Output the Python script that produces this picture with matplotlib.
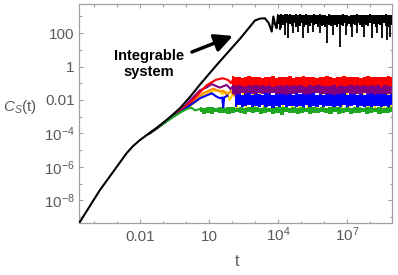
import numpy as np
import matplotlib
matplotlib.use('Agg')
import matplotlib.pyplot as plt
from matplotlib.ticker import FixedLocator, NullFormatter, FixedFormatter

plt.rcParams['font.family'] = ['Liberation Sans', 'DejaVu Sans']
plt.rcParams['mathtext.fontset'] = 'custom'
plt.rcParams['mathtext.rm'] = 'Liberation Sans'
plt.rcParams['mathtext.it'] = 'Liberation Sans:italic'
plt.rcParams['mathtext.bf'] = 'Liberation Sans:bold'

# ---------------- data (log10 values) ----------------
black_logt = [-4.65, -3.74, -2.57, -2.3, -2.0, -1.6, -1.27, -0.8, -0.26, 0.2, 0.61, 1.0,
              1.33, 2.0, 2.35, 3.0, 3.2, 3.43, 3.6, 3.73, 3.80, 3.88, 3.94, 4.0]
black_logC = [-9.38, -7.39, -5.17, -4.76, -4.40, -4.0, -3.67, -3.15, -2.50, -1.78, -1.08, -0.45,
              0.08, 1.12, 1.66, 2.75, 2.86, 2.89, 2.6, 2.09, 2.99, 2.5, 2.29, 3.05]

# black saturation band, sampled from 10^3.95 to 10^8.94
black_hi = [3.14, 3.10, 3.16, 3.08, 3.12, 3.15, 3.09, 3.13, 3.07, 3.11,
            3.14, 3.08, 3.12, 3.10, 3.06, 3.13, 3.09, 3.11, 3.07, 3.12,
            3.10, 3.06, 3.13, 3.08, 3.11, 3.09, 3.05, 3.12, 3.08, 3.10,
            3.07, 3.11, 3.09, 3.06, 3.12, 3.08, 3.10, 3.05, 3.11, 3.09,
            3.07, 3.12, 3.08, 3.10, 3.06, 3.11, 3.09, 3.07, 3.12, 3.08,
            3.10, 3.06, 3.11, 3.08, 3.09, 3.06, 3.12, 3.08, 3.10, 3.07]
black_lo = [2.40, 2.55, 2.30, 2.50, 2.45, 2.60, 2.35, 2.52, 2.42, 2.58,
            2.38, 2.50, 2.44, 2.62, 2.36, 2.48, 2.55, 2.40, 2.58, 2.46,
            2.52, 2.38, 2.60, 2.45, 2.50, 2.35, 2.56, 2.48, 2.42, 2.60,
            2.46, 2.38, 2.55, 2.50, 2.40, 2.58, 2.44, 2.52, 2.36, 2.56,
            2.48, 2.42, 2.60, 2.46, 2.38, 2.54, 2.50, 2.40, 2.58, 2.45,
            2.52, 2.36, 2.56, 2.48, 2.42, 2.60, 2.44, 2.38, 2.54, 2.50]
black_spike_logt = [4.09, 4.30, 4.45, 4.67, 4.88, 5.10, 5.32, 5.53, 5.83, 6.14, 6.40,
                    6.70, 6.96, 7.20, 7.42, 7.74, 8.07, 8.29, 8.51, 8.73, 8.87]
black_spike_logC = [2.19, 1.89, 1.69, 1.99, 2.09, 1.69, 1.99, 2.09, 1.99, 1.40, 1.89,
                    1.19, 1.89, 1.79, 1.99, 1.79, 1.69, 1.99, 1.69, 1.59, 1.79]

# early transients of the chaotic systems
red_logt = [-1.6, -1.27, -0.8, -0.26, 0.2, 0.61, 0.9, 1.3, 1.6, 1.85, 1.95, 2.06, 2.2, 2.3]
red_logC = [-4.02, -3.70, -3.22, -2.68, -2.15, -1.55, -1.12, -0.80, -0.70, -0.82, -1.0, -0.74, -0.98, -0.70]
purple_logt = [-1.6, -1.27, -0.8, -0.26, 0.2, 0.61, 0.90, 1.12, 1.40, 1.48, 1.77, 1.95, 2.1, 2.25]
purple_logC = [-4.02, -3.70, -3.22, -2.68, -2.0, -1.42, -1.25, -1.05, -1.22, -1.26, -1.10, -1.35, -1.05, -1.4]
orange_logt = [-1.6, -1.27, -0.8, -0.26, 0.2, 0.75, 1.19, 1.48, 1.62, 1.8, 1.95, 2.1]
orange_logC = [-4.02, -3.70, -3.22, -2.70, -2.2, -1.6, -1.32, -1.50, -1.45, -1.7, -1.45, -1.75]
yellow_logt = [-1.6, -1.27, -0.8, -0.26, 0.2, 0.75, 1.2, 1.45, 1.6, 1.75, 1.9, 2.05]
yellow_logC = [-4.02, -3.70, -3.23, -2.74, -2.35, -1.75, -1.45, -1.42, -1.65, -1.5, -2.0, -1.6]
blue_logt = [-1.6, -1.27, -0.8, -0.26, 0.2, 0.61, 1.12, 1.33, 1.48, 1.58, 1.62, 1.66, 1.8]
blue_logC = [-4.02, -3.70, -3.23, -2.74, -2.3, -1.9, -1.6, -1.80, -1.90, -1.85, -2.5, -1.85, -1.75]
green_logt = [-1.6, -1.27, -0.8, -0.26, 0.1, 0.25, 0.4, 0.6]
green_logC = [-4.02, -3.70, -3.24, -2.76, -2.5, -2.48, -2.62, -2.55]

# saturation bands of the coloured curves, sampled from 10^2 to 10^8.94
red_hi = [-0.58, -0.64, -0.60, -0.66, -0.61, -0.57, -0.65, -0.62, -0.60, -0.67,
          -0.61, -0.63, -0.58, -0.66, -0.62, -0.60, -0.64, -0.59, -0.66, -0.61,
          -0.63, -0.58, -0.65, -0.62, -0.60, -0.66, -0.61, -0.64, -0.59, -0.63,
          -0.66, -0.60, -0.62, -0.58, -0.65, -0.61, -0.63, -0.60, -0.66, -0.62,
          -0.59, -0.64, -0.61, -0.65, -0.60, -0.63, -0.58, -0.62]
red_lo = [-1.12, -1.18, -1.10, -1.16, -1.21, -1.12, -1.15, -1.09, -1.19, -1.13,
          -1.17, -1.11, -1.20, -1.14, -1.10, -1.18, -1.13, -1.16, -1.09, -1.19,
          -1.12, -1.15, -1.21, -1.11, -1.17, -1.13, -1.10, -1.18, -1.14, -1.16,
          -1.12, -1.20, -1.11, -1.15, -1.18, -1.10, -1.16, -1.13, -1.19, -1.12,
          -1.15, -1.10, -1.17, -1.13, -1.20, -1.11, -1.16, -1.14]
purple_lo = [-1.62, -1.70, -1.65, -1.60, -1.72, -1.66, -1.63, -1.69, -1.61, -1.67,
             -1.71, -1.64, -1.60, -1.68, -1.65, -1.62, -1.70, -1.66, -1.63, -1.69,
             -1.61, -1.67, -1.72, -1.64, -1.66, -1.60, -1.69, -1.63, -1.67, -1.65,
             -1.71, -1.62, -1.68, -1.64, -1.60, -1.70, -1.66, -1.63, -1.69, -1.61,
             -1.67, -1.65, -1.71, -1.62, -1.68, -1.64, -1.66, -1.63]
blue_hi = [-1.64, -1.70, -1.62, -1.68, -1.66, -1.60, -1.71, -1.65, -1.63, -1.69,
           -1.61, -1.67, -1.72, -1.64, -1.66, -1.62, -1.70, -1.65, -1.68, -1.61,
           -1.67, -1.63, -1.69, -1.66, -1.60, -1.71, -1.64, -1.68, -1.62, -1.66,
           -1.70, -1.63, -1.67, -1.61, -1.69, -1.65, -1.62, -1.70, -1.64, -1.68,
           -1.66, -1.61, -1.69, -1.63, -1.67, -1.65, -1.70, -1.64]
blue_lo = [-2.34, -2.42, -2.30, -2.45, -2.38, -2.33, -2.47, -2.36, -2.40, -2.31,
           -2.44, -2.37, -2.48, -2.35, -2.41, -2.32, -2.46, -2.38, -2.34, -2.43,
           -2.36, -2.49, -2.33, -2.40, -2.37, -2.45, -2.31, -2.42, -2.38, -2.35,
           -2.47, -2.36, -2.41, -2.33, -2.44, -2.39, -2.32, -2.46, -2.37, -2.42,
           -2.34, -2.48, -2.38, -2.35, -2.43, -2.36, -2.40, -2.33]
# green band sampled from 10^0.6 to 10^8.94
green_hi = [-2.42, -2.48, -2.44, -2.40, -2.47, -2.43, -2.49, -2.45, -2.41, -2.46,
            -2.44, -2.48, -2.42, -2.45, -2.40, -2.47, -2.43, -2.46, -2.49, -2.42,
            -2.45, -2.41, -2.47, -2.44, -2.48, -2.42, -2.46, -2.43, -2.40, -2.47,
            -2.44, -2.49, -2.42, -2.45, -2.41, -2.46, -2.43, -2.48, -2.44, -2.41,
            -2.47, -2.42, -2.45, -2.49, -2.43, -2.46, -2.41, -2.44]
green_lo = [-2.74, -2.82, -2.77, -2.85, -2.72, -2.80, -2.76, -2.83, -2.79, -2.73,
            -2.81, -2.86, -2.75, -2.79, -2.72, -2.84, -2.78, -2.74, -2.82, -2.77,
            -2.88, -2.73, -2.80, -2.76, -2.83, -2.79, -2.72, -2.85, -2.77, -2.81,
            -2.74, -2.79, -2.87, -2.75, -2.82, -2.78, -2.73, -2.84, -2.76, -2.80,
            -2.74, -2.86, -2.78, -2.72, -2.83, -2.77, -2.81, -2.75]
# yellow excursions poking out above / below the blue band
yellow_up_logt = [2.1, 2.5, 2.9, 3.2, 3.6, 4.1, 4.4, 4.8, 5.2, 5.5, 5.9, 6.3, 6.6, 7.0, 7.3, 7.7, 8.0, 8.4, 8.8]
yellow_up_logC = [-1.48, -1.55, -1.52, -1.58, -1.50, -1.56, -1.52, -1.58, -1.50, -1.55, -1.52,
                  -1.57, -1.50, -1.56, -1.52, -1.58, -1.50, -1.55, -1.53]
yellow_dn_logt = [2.2, 2.6, 3.0, 3.4, 3.8, 4.2, 4.6, 4.9, 5.3, 5.7, 6.0, 6.4, 6.8, 7.1, 7.5, 7.9, 8.2, 8.6, 8.9]
yellow_dn_logC = [-2.58, -2.50, -2.56, -2.52, -2.58, -2.50, -2.55, -2.60, -2.52, -2.56, -2.50,
                  -2.58, -2.53, -2.57, -2.50, -2.56, -2.52, -2.58, -2.54]

x_major = [-2, 1, 4, 7]
x_major_labels = ['0.01', '10', '$10^4$', '$10^7$']
x_minor = list(range(-4, 9))
y_major = [2, 0, -2, -4, -6, -8]
y_major_labels = ['100', '1', '0.01', '$10^{-4}$', '$10^{-6}$', '$10^{-8}$']
y_minor = [3, 1, -1, -3, -5, -7, -9]

# ---------------------------------------------------------------------------
P = lambda a: 10.0 ** np.asarray(a, dtype=float)

fig = plt.figure(figsize=(3.98, 2.75), dpi=100)
ax = fig.add_axes([79 / 398, 1 - 223.3 / 275, (392 - 79) / 398, (223.3 - 4) / 275])
ax.set_xscale('log')
ax.set_yscale('log')
ax.set_xlim(P(-4.65), P(8.96))
ax.set_ylim(P(-9.38), P(3.74))

cols = {'red': '#FF0000', 'purple': '#800080', 'orange': '#FF8C00',
        'yellow': '#FFD400', 'blue': '#0000FF', 'green': '#1FA81F'}

t_col = P(np.linspace(2.0, 8.94, len(red_hi)))
t_green = P(np.linspace(0.6, 8.94, len(green_hi)))
t_black = P(np.linspace(3.95, 8.94, len(black_hi)))

ax.vlines(P(yellow_up_logt), P(-1.75), P(yellow_up_logC), color=cols['yellow'], lw=1.6, zorder=2.1)
ax.vlines(P(yellow_dn_logt), P(yellow_dn_logC), P(-2.3), color=cols['yellow'], lw=1.6, zorder=2.1)
ax.fill_between(t_col, P(purple_lo), P(red_hi), color=cols['purple'], lw=0, zorder=2.5, step='mid')
ax.fill_between(t_col, P(red_lo), P(red_hi), color=cols['red'], lw=0, zorder=2.6, step='mid')
ax.fill_between(t_col[1:], P(blue_lo[1:]), P(blue_hi[1:]), color=cols['blue'], lw=0, zorder=3, step='mid')
ax.fill_between(t_green, P(green_lo), P(green_hi), color=cols['green'], lw=0, zorder=3.1, step='mid')

lw = 1.5
ax.plot(P(yellow_logt), P(yellow_logC), color=cols['yellow'], lw=lw, zorder=2.2)
ax.plot(P(orange_logt), P(orange_logC), color=cols['orange'], lw=lw, zorder=2.3)
ax.plot(P(purple_logt), P(purple_logC), color=cols['purple'], lw=lw, zorder=2.5)
ax.plot(P(red_logt), P(red_logC), color=cols['red'], lw=lw, zorder=2.6)
ax.plot(P(blue_logt), P(blue_logC), color=cols['blue'], lw=lw, zorder=3)
ax.plot(P(green_logt), P(green_logC), color=cols['green'], lw=lw, zorder=3.1)

ax.plot(P(black_logt), P(black_logC), color='black', lw=1.5, zorder=5)
ax.fill_between(t_black, P(black_lo), P(black_hi), color='black', lw=0, zorder=5, step='mid')
ax.vlines(P(black_spike_logt), P(black_spike_logC), P(2.6), color='black', lw=1.3, zorder=5)

# annotation
ax.text(P(-1.61), P(0.16), 'Integrable\nsystem', ha='center', va='center',
        fontsize=10.5, fontweight='bold', color='black', zorder=6)
ax.annotate('', xy=(P(2.04), P(1.83)), xytext=(P(0.26), P(0.87)),
            arrowprops=dict(arrowstyle='-|>,head_length=0.9,head_width=0.45',
                            lw=2.5, color='black', mutation_scale=12, shrinkA=0, shrinkB=0),
            zorder=6)

# axes styling
gray = '#A0A0A0'
tcol = '#5A5A5A'
for s in ax.spines.values():
    s.set_color(gray)
    s.set_linewidth(0.9)
ax.xaxis.set_major_locator(FixedLocator(P(x_major)))
ax.xaxis.set_major_formatter(FixedFormatter(x_major_labels))
ax.xaxis.set_minor_locator(FixedLocator(P(x_minor)))
ax.xaxis.set_minor_formatter(NullFormatter())
ax.yaxis.set_major_locator(FixedLocator(P(y_major)))
ax.yaxis.set_major_formatter(FixedFormatter(y_major_labels))
ax.yaxis.set_minor_locator(FixedLocator(P(y_minor)))
ax.yaxis.set_minor_formatter(NullFormatter())
ax.tick_params(which='both', direction='in', top=True, right=True, color=gray,
               labelcolor=tcol, labelsize=11, width=0.8)
ax.tick_params(which='major', length=3.2)
ax.tick_params(which='minor', length=1.8)
ax.tick_params(axis='y', pad=3)
ax.tick_params(axis='x', pad=13)
for lab in ax.get_xticklabels():
    lab.set_verticalalignment('baseline')

fig.text(20 / 398, 1 - 107 / 275, '$C_S$(t)', ha='center', va='center', fontsize=11, color=tcol)
fig.text(237 / 398, 1 - 262 / 275, 't', ha='center', va='center', fontsize=11.5, color=tcol)

fig.savefig('out.png', dpi=100)
